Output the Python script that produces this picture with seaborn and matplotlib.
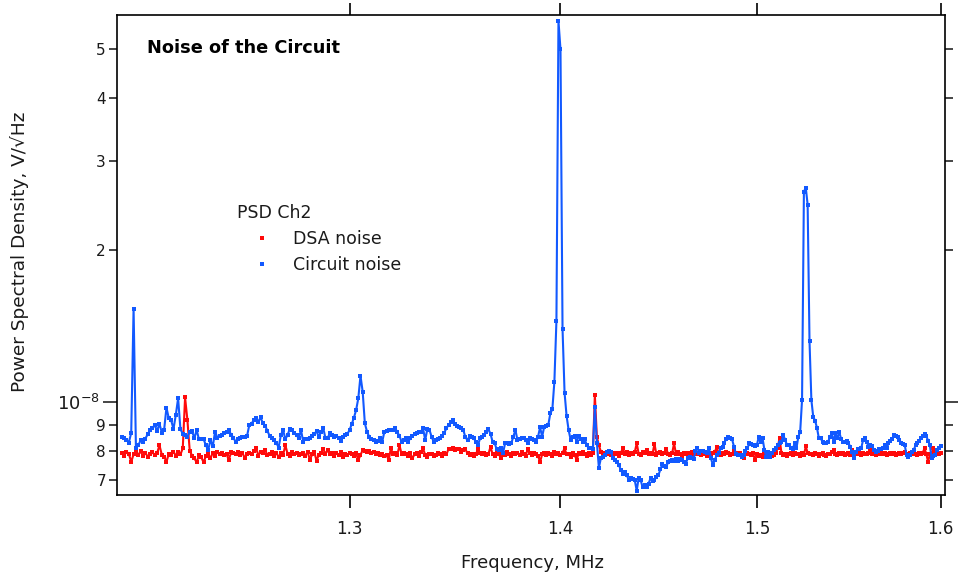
import numpy as np
import pandas as pd
import matplotlib
matplotlib.use("Agg")
import matplotlib.pyplot as plt
import seaborn as sns
from matplotlib.lines import Line2D
from matplotlib.ticker import FixedLocator, FixedFormatter, NullLocator

# ---------------- data (PSD values in units of 1e-9 V/sqrt(Hz)) ----------------
f_start_mhz = 1.2
f_stop_mhz = 1.6
n_bins = 401
freq_mhz = np.linspace(f_start_mhz, f_stop_mhz, n_bins)

dsa_noise = [
    7.90, 7.82, 7.96, 7.88, 7.60, 7.86, 7.95, 7.84, 7.98, 7.80,
    7.92, 7.78, 7.86, 7.94, 7.83, 7.90, 8.20, 7.85, 7.78, 7.60,
    7.88, 7.84, 7.96, 7.82, 7.94, 7.86, 8.08, 10.20, 9.20, 8.00,
    7.82, 7.72, 7.58, 7.84, 7.76, 7.58, 7.80, 7.88, 7.72, 7.92,
    7.80, 7.96, 7.86, 7.92, 7.84, 7.88, 7.66, 7.94, 7.90, 7.86,
    7.96, 7.84, 7.90, 7.74, 7.88, 7.92, 7.86, 7.98, 8.10, 7.82,
    7.96, 7.90, 8.02, 7.84, 7.88, 7.96, 7.80, 7.92, 7.76, 7.90,
    7.84, 8.20, 7.88, 7.82, 7.94, 7.86, 7.90, 7.84, 7.88, 7.92,
    7.82, 7.96, 7.66, 7.86, 7.94, 7.64, 7.84, 7.90, 8.06, 7.88,
    8.02, 7.86, 7.92, 7.80, 7.90, 7.84, 7.94, 7.78, 7.88, 7.84,
    7.92, 7.86, 7.80, 7.90, 7.66, 7.84, 8.02, 8.00, 7.96, 7.98,
    7.92, 7.94, 7.88, 7.90, 7.84, 7.86, 7.80, 7.84, 7.66, 8.08,
    7.88, 7.90, 7.84, 8.20, 7.86, 7.92, 7.88, 7.82, 7.90, 7.72,
    7.86, 7.92, 7.80, 7.94, 8.08, 7.84, 7.78, 7.86, 7.88, 7.80,
    7.84, 7.90, 7.86, 7.82, 7.92, 7.86, 8.06, 8.04, 8.08, 8.02,
    8.04, 8.06, 7.96, 8.02, 8.04, 7.90, 7.84, 7.88, 7.80, 7.86,
    8.06, 7.90, 7.86, 7.92, 7.84, 7.88, 8.14, 7.86, 7.80, 7.92,
    7.88, 7.72, 7.90, 7.84, 7.96, 7.88, 7.82, 7.92, 7.86, 7.90,
    7.84, 7.96, 7.88, 7.82, 8.06, 7.90, 7.84, 7.92, 7.88, 7.80,
    7.60, 7.86, 7.90, 7.84, 7.92, 7.88, 7.80, 7.94, 7.86, 7.90,
    7.84, 7.92, 8.08, 7.86, 7.88, 7.76, 7.90, 7.84, 7.66, 7.92,
    7.88, 7.94, 7.86, 7.80, 7.90, 7.84, 7.92, 10.31, 8.52, 8.20,
    7.96, 7.90, 7.86, 7.94, 7.88, 7.84, 7.92, 7.86, 7.90, 7.80,
    7.92, 8.08, 7.88, 7.96, 7.84, 7.90, 7.86, 7.94, 8.27, 7.88,
    7.84, 7.96, 7.90, 8.02, 7.86, 7.92, 7.88, 8.25, 7.84, 7.90,
    7.96, 7.86, 7.92, 8.05, 7.88, 7.84, 7.90, 8.27, 7.86, 7.94,
    7.88, 7.80, 7.92, 7.86, 7.90, 7.84, 7.96, 7.88, 7.92, 7.86,
    7.90, 7.84, 7.96, 7.88, 7.82, 7.92, 7.86, 7.90, 7.94, 8.14,
    7.88, 7.84, 7.92, 7.86, 7.96, 7.90, 7.84, 7.88, 8.02, 7.92,
    7.86, 7.90, 7.84, 7.72, 7.88, 7.92, 7.86, 7.84, 7.90, 7.66,
    7.86, 7.80, 7.84, 7.78, 7.88, 7.82, 7.76, 7.86, 7.80, 7.84,
    7.90, 8.10, 8.46, 7.92, 7.84, 7.88, 7.80, 7.86, 7.90, 7.84,
    7.92, 7.86, 7.88, 7.80, 7.90, 7.84, 8.15, 7.92, 7.86, 7.88,
    7.84, 7.90, 7.86, 7.82, 7.88, 7.92, 7.84, 7.80, 7.88, 7.86,
    7.94, 8.02, 7.88, 7.84, 7.90, 7.86, 7.92, 7.84, 7.88, 7.90,
    7.84, 8.02, 7.92, 7.86, 7.88, 7.90, 7.84, 7.92, 7.86, 7.88,
    7.90, 8.02, 7.86, 7.92, 7.84, 7.94, 7.88, 7.92, 7.86, 7.90,
    7.84, 7.88, 7.92, 7.86, 7.90, 7.84, 7.88, 7.92, 7.86, 7.90,
    7.94, 7.88, 7.84, 7.90, 7.86, 7.92, 7.88, 7.84, 7.90, 7.86,
    7.92, 8.08, 7.88, 7.60, 7.86, 7.92, 8.08, 7.84, 7.90, 7.86,
    7.90,
]

circuit_noise = [
    8.52, 8.48, 8.40, 8.30, 8.68, 15.30, 8.08, 8.20, 8.38, 8.33,
    8.45, 8.62, 8.78, 8.88, 8.98, 8.75, 9.05, 8.68, 8.80, 9.73,
    9.27, 9.20, 8.82, 9.41, 10.16, 8.82, 8.64, 8.59, 8.52, 8.70,
    8.75, 8.46, 8.79, 8.42, 8.45, 8.43, 8.20, 8.02, 8.39, 8.16,
    8.72, 8.49, 8.55, 8.59, 8.68, 8.70, 8.79, 8.60, 8.49, 8.32,
    8.42, 8.46, 8.50, 8.52, 8.55, 8.99, 9.05, 9.20, 9.27, 9.13,
    9.31, 9.06, 8.96, 8.76, 8.55, 8.46, 8.38, 8.29, 8.11, 8.59,
    8.79, 8.42, 8.60, 8.83, 8.79, 8.65, 8.59, 8.46, 8.79, 8.33,
    8.43, 8.45, 8.49, 8.55, 8.62, 8.75, 8.52, 8.70, 8.88, 8.48,
    8.46, 8.66, 8.60, 8.52, 8.55, 8.49, 8.36, 8.52, 8.58, 8.63,
    8.79, 9.03, 9.30, 9.63, 10.16, 11.26, 10.47, 9.06, 8.72, 8.52,
    8.45, 8.39, 8.33, 8.36, 8.46, 8.33, 8.72, 8.76, 8.79, 8.77,
    8.80, 8.86, 8.70, 8.55, 8.33, 8.40, 8.46, 8.33, 8.46, 8.55,
    8.62, 8.66, 8.70, 8.72, 8.86, 8.39, 8.82, 8.80, 8.52, 8.33,
    8.38, 8.42, 8.46, 8.55, 8.68, 8.86, 8.99, 9.10, 9.20, 9.03,
    8.96, 8.92, 8.86, 8.79, 8.50, 8.39, 8.55, 8.50, 8.46, 8.33,
    8.20, 8.46, 8.52, 8.59, 8.70, 8.82, 8.63, 8.33, 8.27, 8.04,
    8.02, 8.10, 7.90, 8.27, 8.30, 8.25, 8.27, 8.52, 8.79, 8.39,
    8.42, 8.49, 8.49, 8.38, 8.27, 8.46, 8.42, 8.39, 8.33, 8.52,
    8.90, 8.52, 8.92, 8.95, 8.99, 9.48, 9.66, 10.96, 14.48, 57.00,
    50.00, 13.96, 10.42, 9.37, 8.79, 8.40, 8.52, 8.55, 8.33, 8.55,
    8.45, 8.33, 8.42, 8.20, 8.08, 8.08, 8.04, 9.75, 8.30, 7.40,
    7.72, 7.78, 7.85, 7.96, 8.00, 7.96, 7.72, 7.65, 7.60, 7.49,
    7.32, 7.20, 7.26, 7.15, 6.99, 7.05, 7.02, 6.99, 6.66, 7.07,
    6.99, 6.76, 6.83, 6.76, 6.88, 7.05, 6.95, 6.99, 7.10, 7.15,
    7.34, 7.52, 7.45, 7.42, 7.60, 7.63, 7.66, 7.62, 7.68, 7.63,
    7.70, 7.66, 7.60, 7.54, 7.72, 7.78, 7.75, 7.68, 8.00, 8.08,
    7.92, 7.98, 8.00, 7.95, 7.92, 8.08, 7.72, 7.49, 7.66, 7.84,
    7.90, 8.08, 8.14, 8.29, 8.45, 8.50, 8.46, 8.42, 8.14, 7.88,
    7.84, 7.84, 7.76, 7.84, 8.00, 8.08, 8.27, 8.25, 8.20, 8.17,
    8.20, 8.52, 8.33, 8.46, 8.02, 7.78, 7.96, 7.78, 7.90, 8.02,
    8.08, 8.20, 8.30, 8.33, 8.59, 8.39, 8.20, 8.20, 8.10, 8.04,
    8.27, 8.08, 8.52, 8.72, 10.08, 26.10, 26.60, 24.60, 13.20, 10.08,
    9.34, 9.17, 8.88, 8.48, 8.46, 8.33, 8.27, 8.30, 8.33, 8.50,
    8.66, 8.33, 8.66, 8.46, 8.72, 8.45, 8.33, 8.33, 8.35, 8.30,
    8.14, 7.96, 7.72, 7.96, 8.04, 8.06, 8.08, 8.39, 8.46, 8.33,
    8.14, 8.20, 8.17, 8.02, 7.96, 8.00, 8.04, 8.06, 8.08, 8.20,
    8.08, 8.27, 8.35, 8.42, 8.59, 8.55, 8.52, 8.39, 8.30, 8.25,
    8.20, 7.84, 7.78, 7.84, 7.95, 8.02, 8.20, 8.27, 8.35, 8.46,
    8.55, 8.63, 8.55, 8.37, 8.20, 7.72, 7.80, 7.84, 8.02, 8.08,
    8.17,
]

series_names = ["DSA noise", "Circuit noise"]
series_colors = ["#ff0a0a", "#1259ff"]
legend_title = "PSD Ch2"
chart_title = "Noise of the Circuit"
x_label = "Frequency, MHz"
y_label = "Power Spectral Density, V/\u221aHz"
x_ticks = [1.3, 1.4, 1.5, 1.6]
x_tick_labels = ["1.3", "1.4", "1.5", "1.6"]
y_major = [1e-8]
y_major_labels = ["$10^{-8}$"]
y_minor = [7e-9, 8e-9, 9e-9, 2e-8, 3e-8, 4e-8, 5e-8]
y_minor_labels = ["7", "8", "9", "2", "3", "4", "5"]

# ---------------- plotting ----------------
sns.set_theme(style="ticks")
plt.rcParams["font.family"] = ["DejaVu Sans"]
plt.rcParams["mathtext.fontset"] = "dejavusans"

W, H = 958, 577
fig = plt.figure(figsize=(W / 100, H / 100), dpi=100)
L, R, T, B = 117, 945, 15.3, 495
ax = fig.add_axes([L / W, 1 - B / H, (R - L) / W, (B - T) / H])

df = pd.DataFrame({
    "freq": np.concatenate([freq_mhz, freq_mhz]),
    "psd": np.concatenate([np.asarray(dsa_noise), np.asarray(circuit_noise)]) * 1e-9,
    "trace": [series_names[0]] * n_bins + [series_names[1]] * n_bins,
})

for name, col in zip(series_names, series_colors):
    sub = df[df["trace"] == name]
    sns.lineplot(data=sub, x="freq", y="psd", color=col, linewidth=1.5,
                 marker="s", markersize=3.5, markeredgewidth=0,
                 estimator=None, sort=False, ax=ax, legend=False)

ax.set_xscale("log")
ax.set_yscale("log")
ax.set_xlim(1.198, 1.6025)
ax.set_ylim(6.53e-9, 5.845e-8)

ax.xaxis.set_major_locator(FixedLocator(x_ticks))
ax.xaxis.set_major_formatter(FixedFormatter(x_tick_labels))
ax.xaxis.set_minor_locator(NullLocator())
ax.yaxis.set_major_locator(FixedLocator(y_major))
ax.yaxis.set_major_formatter(FixedFormatter(y_major_labels))
ax.yaxis.set_minor_locator(FixedLocator(y_minor))
ax.yaxis.set_minor_formatter(FixedFormatter(y_minor_labels))

for s in ax.spines.values():
    s.set_linewidth(1.2)
    s.set_color("black")
    s.set_visible(True)

ax.tick_params(axis="x", which="major", direction="out", length=9, width=1.2,
               top=True, bottom=True, labelsize=12, pad=9, colors="black",
               labelcolor="#1a1a1a")
ax.tick_params(axis="y", which="major", direction="out", length=10, width=1.2,
               left=True, right=True, labelsize=13, pad=2, labelcolor="#1a1a1a")
ax.tick_params(axis="y", which="minor", direction="out", length=6, width=1.2,
               left=True, right=True, labelsize=11, pad=2, labelcolor="#1a1a1a")

ax.set_xlabel("")
ax.set_ylabel("")
fig.text(532 / W, 1 - 563 / H, x_label, ha="center", va="center",
         fontsize=13, color="#1a1a1a")
fig.text(20 / W, 1 - 252 / H, y_label, ha="center", va="center",
         rotation=90, fontsize=13.3, color="#1a1a1a")
fig.text(147 / W, 1 - 48 / H, chart_title, ha="left", va="center",
         fontsize=12.8, fontweight="bold", color="black")

handles = [Line2D([], [], linestyle="none", marker="s", markersize=3.4,
                  markeredgewidth=0, color=c) for c in series_colors]
leg = ax.legend(handles, series_names, title=legend_title, loc="upper left",
                bbox_to_anchor=(237 / W, 1 - 204 / H),
                bbox_transform=fig.transFigure, frameon=False,
                fontsize=12.5, title_fontsize=12.5, alignment="left",
                handlelength=2.9, handletextpad=0.3, borderpad=0,
                labelspacing=0.45, borderaxespad=0)
for t in leg.get_texts():
    t.set_color("#1a1a1a")
leg.get_title().set_color("#1a1a1a")

fig.savefig("out.png", dpi=100)
